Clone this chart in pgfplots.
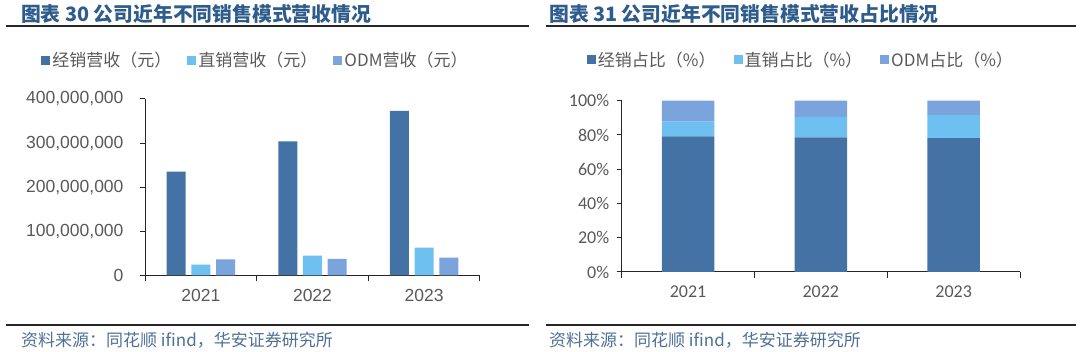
\documentclass[border=0pt]{standalone}
\usepackage{pgfplots}
\pgfplotsset{compat=1.18}
\usepackage{fontspec}
\setmainfont{Liberation Sans}
\newfontfamily\cjk{Noto Sans CJK SC}
\newfontfamily\carl{Carlito}
\definecolor{cdark}{RGB}{68,114,164}
\definecolor{clight}{RGB}{110,192,240}
\definecolor{codm}{RGB}{123,163,220}
\definecolor{titleblue}{RGB}{46,92,140}
\definecolor{srcblue}{RGB}{80,112,150}
\definecolor{tickgray}{RGB}{89,89,89}
\begin{document}
\begin{tikzpicture}[x=1pt,y=1pt]
\useasboundingbox (0,0) rectangle (1080,352);
% titles and rules
\node[anchor=west, text=titleblue, font=\cjk\bfseries\fontsize{19.8}{22}\selectfont, inner sep=0] at (21,338) {图表 30 公司近年不同销售模式营收情况};
\node[anchor=west, text=titleblue, font=\cjk\bfseries\fontsize{19.8}{22}\selectfont, inner sep=0] at (549,338) {图表 31 公司近年不同销售模式营收占比情况};
\draw[line width=1.8pt, black!85] (6,326) -- (529,326);
\draw[line width=1.8pt, black!85] (546,326) -- (1076,326);
\draw[line width=1.3pt, black!85] (6,27) -- (529,27);
\draw[line width=1.3pt, black!85] (546,27) -- (1076,27);
\node[anchor=west, text=srcblue, font=\cjk\fontsize{17}{20}\selectfont, inner sep=0] at (21,12) {资料来源：同花顺 ifind，华安证券研究所};
\node[anchor=west, text=srcblue, font=\cjk\fontsize{17}{20}\selectfont, inner sep=0] at (549,12) {资料来源：同花顺 ifind，华安证券研究所};

% left chart
\begin{axis}[
  at={(145pt,76.7pt)}, anchor=south west,
  width=335pt, height=176.3pt, scale only axis,
  xmin=-0.5, xmax=2.5, ymin=0, ymax=400000000,
  axis lines=left, axis line style={-, draw=black!85, line width=1pt},
  xtick={0,1,2}, xticklabels={2021,2022,2023},
  major x tick style={draw=none},
  minor xtick={-0.5,0.5,1.5,2.5},
  minor tick length=6pt,
  ytick={0,100000000,200000000,300000000,400000000},
  yticklabels={0,{100,000,000},{200,000,000},{300,000,000},{400,000,000}},
  scaled y ticks=false,
  major tick length=5pt, tick align=outside,
  tick style={draw=black!85, line width=1pt},
  ticklabel style={font=\fontsize{17.5}{20}\selectfont, text=tickgray},
  yticklabel style={xshift=-13pt},
  xticklabel style={yshift=-5pt},
  ybar, bar width=19pt,
  legend columns=3,
  legend style={at={(0.33,1.221)}, anchor=center, draw=none, fill=none,
    font=\cjk\fontsize{17}{20}\selectfont, text=tickgray,
    /tikz/every even column/.append style={column sep=14pt},
    inner sep=0pt},
  legend image code/.code={\fill[#1] (0pt,-4.5pt) rectangle (9pt,4.5pt);},
]
\addplot[fill=cdark, draw=none, bar shift=-24.7pt] coordinates {(0,235000000) (1,304000000) (2,373000000)};
\addplot[fill=clight, draw=none, bar shift=0pt] coordinates {(0,24000000) (1,44500000) (2,62500000)};
\addplot[fill=codm, draw=none, bar shift=24.7pt] coordinates {(0,36000000) (1,37000000) (2,40000000)};
\legend{经销营收（元）,直销营收（元）,ODM营收（元）}
\end{axis}

% right chart
\begin{axis}[
  at={(621.7pt,80pt)}, anchor=south west,
  width=398.3pt, height=171.3pt, scale only axis,
  xmin=-0.5, xmax=2.5, ymin=0, ymax=100,
  axis lines=left, axis line style={-, draw=black!85, line width=1pt},
  xtick={0,1,2}, xticklabels={2021,2022,2023},
  major x tick style={draw=none},
  minor xtick={-0.5,0.5,1.5,2.5},
  minor tick length=6pt,
  ytick={0,20,40,60,80,100},
  yticklabels={0\%,20\%,40\%,60\%,80\%,100\%},
  major tick length=5pt, tick align=outside,
  tick style={draw=black!85, line width=1pt},
  ticklabel style={font=\carl\fontsize{18}{21}\selectfont, text=tickgray},
  yticklabel style={xshift=-4pt},
  xticklabel style={yshift=-5pt},
  ybar stacked, bar width=52.6pt,
  legend columns=3,
  legend style={at={(0.45,1.238)}, anchor=center, draw=none, fill=none,
    font=\cjk\fontsize{17}{20}\selectfont, text=tickgray,
    /tikz/every even column/.append style={column sep=16pt},
    inner sep=0pt},
  legend image code/.code={\fill[#1] (0pt,-4.5pt) rectangle (9pt,4.5pt);},
]
\addplot[fill=cdark, draw=none] coordinates {(0,79.2) (1,78.6) (2,78.2)};
\addplot[fill=clight, draw=none] coordinates {(0,8.6) (1,12.0) (2,13.4)};
\addplot[fill=codm, draw=none] coordinates {(0,12.2) (1,9.4) (2,8.4)};
\legend{经销占比（\%）,直销占比（\%）,ODM占比（\%）}
\end{axis}
\end{tikzpicture}
\end{document}
